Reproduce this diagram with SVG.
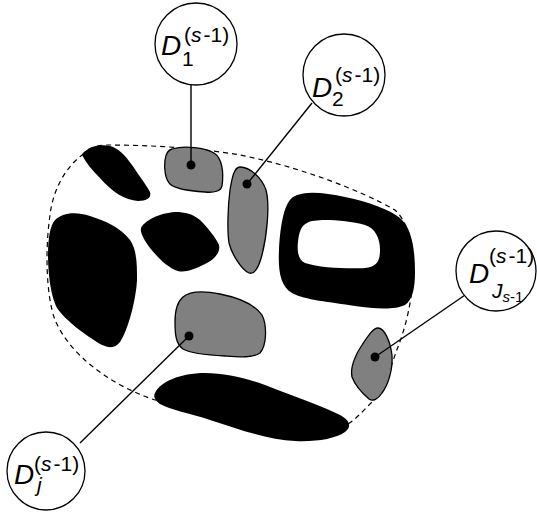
<svg xmlns="http://www.w3.org/2000/svg" width="537" height="515" viewBox="0 0 537 515">
<style>
.blk{fill:#000;stroke:none}
.gry{fill:#808080;stroke:#000;stroke-width:1.3}
.bnd{fill:none;stroke:#000;stroke-width:1.2;stroke-dasharray:5,4}
.con{stroke:#000;stroke-width:1.4;fill:none}
.dot{fill:#000}
.cir{fill:#fff;stroke:#000;stroke-width:1.3}
.big{font-family:"Liberation Sans",Arial,sans-serif;font-size:28px;font-style:italic}
.sm{font-family:"Liberation Sans",Arial,sans-serif;font-size:21px}
.it{font-style:italic}
</style>
<g id="boundary">
<path class="bnd" d="M 82,155 C 88,148 97,145 107,145 C 150,145 200,148 240,155 C 300,167 360,190 395,210 C 408,222 413,245 413,270 C 413,300 405,330 396,352 C 390,370 384,390 372,402 C 362,412 355,420 348,424 L 155,400 C 110,385 70,355 55,320 C 46,295 45,250 50,215 C 53,190 65,168 82,155 Z"/>
</g>
<g id="black-regions">
<path class="blk" d="M 82,155 C 88,146 100,144 110,146 C 118,148 125,155 132,165 C 140,177 147,186 150,192 C 152,198 146,201 138,201 C 125,200 112,192 100,178 C 92,170 86,163 82,155 Z"/>
<path class="blk" d="M 141,228 C 145,220 160,213 175,212 C 185,212 193,214 200,220 C 208,228 216,238 219,245 C 221,252 214,260 205,264 C 195,269 185,273 178,271 C 168,268 158,258 150,248 C 144,240 140,233 141,228 Z"/>
<path class="blk" d="M 55,220 C 62,213 75,211 90,216 C 105,221 120,227 130,240 C 137,250 137,265 137,280 C 136,300 128,330 120,342 C 115,349 108,348 100,344 C 85,335 65,320 57,308 C 50,295 48,270 48,255 C 48,238 50,226 55,220 Z"/>
<path class="blk" fill-rule="evenodd" d="M 293,197 C 305,190 325,193 345,197 C 370,202 390,210 400,218 C 412,228 415,250 415,272 C 415,290 412,300 405,305 C 395,310 375,309 355,306 C 330,302 305,300 292,293 C 280,286 278,270 279,250 C 280,230 283,204 293,197 Z M 307,223 C 315,218 345,220 365,225 C 375,228 380,238 380,250 C 380,262 376,267 365,268 C 350,269 320,268 305,263 C 298,260 297,250 298,242 C 299,232 301,226 307,223 Z"/>
<path class="blk" d="M 155,393 C 160,382 180,373 205,373 C 225,373 245,378 265,385 C 290,395 320,405 340,415 C 350,420 352,427 345,432 C 335,439 315,442 295,441 C 270,440 240,430 210,420 C 190,413 170,410 160,404 C 155,400 153,397 155,393 Z"/>
</g>
<g id="D1-region"><path class="gry" d="M 172,149 C 185,145 205,148 214,153 C 222,158 224,172 222,186 C 221,191 214,193 205,192 C 190,191 175,189 170,184 C 165,179 164,168 165,160 C 166,153 168,150 172,149 Z"/></g>
<g id="D2-region"><path class="gry" d="M 240,167 C 250,167 262,178 266,190 C 270,205 267,235 262,255 C 259,266 255,275 249,273 C 242,270 232,255 229,243 C 227,230 228,205 230,190 C 232,178 234,167 240,167 Z"/></g>
<g id="Dj-region"><path class="gry" d="M 183,297 C 190,291 205,291 220,294 C 240,298 255,305 262,315 C 267,325 267,345 260,353 C 253,358 240,357 225,356 C 205,355 190,353 183,349 C 176,344 175,335 175,322 C 175,310 177,302 183,297 Z"/></g>
<g id="DJ-region"><path class="gry" d="M 378,328 C 384,328 390,340 392,355 C 393,370 388,385 382,393 C 378,399 373,402 369,399 C 362,393 355,385 352,377 C 350,368 355,355 362,345 C 368,336 373,328 378,328 Z"/></g>
<g id="connectors">
<line class="con" x1="191" y1="85" x2="191" y2="165"/>
<line class="con" x1="312" y1="103" x2="247" y2="184"/>
<line class="con" x1="468" y1="293" x2="375" y2="357"/>
<line class="con" x1="80" y1="443" x2="189" y2="336"/>
<circle class="dot" cx="191" cy="165" r="4.5"/>
<circle class="dot" cx="247" cy="184" r="4.5"/>
<circle class="dot" cx="375" cy="357" r="4.5"/>
<circle class="dot" cx="189" cy="336" r="4.5"/>
</g>
<g id="label-D1">
<circle class="cir" cx="196" cy="44" r="41"/>
<text class="big" x="161" y="55">D</text>
<text class="sm" x="182" y="66">1</text>
<text class="sm" x="184" y="42">(<tspan class="it">s</tspan><tspan dx="2">-</tspan>1)</text>
</g>
<g id="label-D2">
<circle class="cir" cx="344" cy="75" r="41"/>
<text class="big" x="312" y="97">D</text>
<text class="sm" x="332" y="106">2</text>
<text class="sm" x="335" y="82">(<tspan class="it">s</tspan><tspan dx="2">-</tspan>1)</text>
</g>
<g id="label-DJ">
<circle class="cir" cx="496" cy="271" r="40"/>
<text class="big" x="469" y="283">D</text>
<text class="sm" x="489" y="263">(<tspan class="it">s</tspan><tspan dx="2">-</tspan>1)</text>
<text class="sm" x="492" y="298"><tspan class="it">J</tspan><tspan font-size="15" dy="4" class="it">s</tspan><tspan font-size="15">-1</tspan></text>
</g>
<g id="label-Dj">
<circle class="cir" cx="46" cy="471" r="39"/>
<text class="big" x="14" y="484">D</text>
<text class="sm" x="34" y="471">(<tspan class="it">s</tspan><tspan dx="2">-</tspan>1)</text>
<text class="sm it" x="37" y="492">j</text>
</g>
</svg>
